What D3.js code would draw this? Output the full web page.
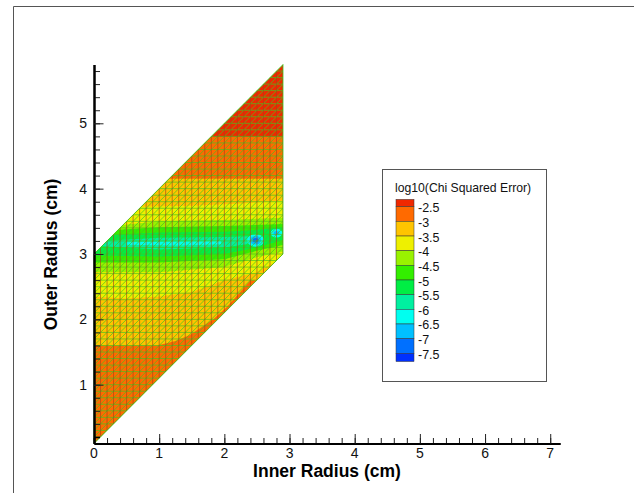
<!DOCTYPE html>
<html lang="en">
<head>
<meta charset="UTF-8">
<title>log10(Chi Squared Error)</title>
<script src="https://d3js.org/d3.v7.min.js"></script>
<style>
    html, body { margin: 0; padding: 0; background: #fff; }
    svg { display: block; font-family: "Liberation Sans", Arial, sans-serif; }
    .axis-title { font-weight: bold; font-size: 17.5px; fill: #000; text-anchor: middle; }
    .tick-label { font-size: 14px; fill: #111; }
</style>
</head>
<body>
<svg id="chart" width="634" height="493"></svg>
<script>
// Legend levels and band colours, top band first
const levels = [-2.5, -3, -3.5, -4, -4.5, -5, -5.5, -6, -6.5, -7, -7.5];
const bandColors = ["#f02800", "#ff6a00", "#ffc400", "#eef000", "#99f200", "#33ee00",
    "#00ee44", "#00f0a0", "#00fff0", "#00c0ff", "#0070ff", "#0030ff"];

// Outline of the solved region (inner radius, outer radius)
const domainOutline = [[0, 0.1], [2.9, 3.0], [2.9, 5.9], [0, 3]];

// Contours: upper and lower limit of "error below level"
const contourLevels = [-2.5, -3, -3.5, -4, -4.5, -5, -5.5, -6];
const contourUpper = [
    [[-0.1, 4.79], [3, 4.79]],
    [[-0.1, 4.15], [3, 4.15]],
    [[0.5, 3.72], [1.5, 3.74], [2.2, 3.77], [3, 3.82]],
    [[0.2, 3.42], [1, 3.5], [2, 3.52], [3, 3.56]],
    [[0, 3.35], [1, 3.41], [2, 3.43], [3, 3.46]],
    [[0, 3.28], [1, 3.33], [2, 3.34], [2.5, 3.37], [3, 3.42]],
    [[0.12, 3.2], [1, 3.25], [2, 3.26], [2.42, 3.27]],
    [[0.5, 3.18], [1.3, 3.19], [1.95, 3.2]]
];
const contourLower = [
    [[-0.1, -1], [3, -1]],
    [[-0.1, 1.6], [0.97, 1.6], [1.25, 1.67], [1.47, 1.76], [1.83, 2.0], [2.04, 2.19], [2.4, 2.6], [3, 2.6]],
    [[-0.1, 2.35], [0.5, 2.32], [1, 2.35], [1.5, 2.42], [2, 2.6], [2.5, 2.72], [3, 3.0]],
    [[-0.1, 2.72], [1, 2.72], [2, 2.8], [2.5, 2.95], [3, 3.06]],
    [[-0.1, 2.87], [1, 2.87], [2, 2.92], [2.5, 3.05], [3, 3.16]],
    [[-0.1, 2.98], [1, 2.96], [2, 3.0], [2.5, 3.1], [3, 3.24]],
    [[0.12, 3.12], [1, 3.07], [2, 3.1], [2.42, 3.16]],
    [[0.5, 3.14], [1.3, 3.13], [1.95, 3.15]]
];

// Two small minima near the right edge
const spotX = [2.48, 2.48, 2.48, 2.8, 2.8];
const spotY = [3.21, 3.21, 3.21, 3.32, 3.32];
const spotRadius = [0.13, 0.085, 0.045, 0.09, 0.045];
const spotLevel = [-6, -6.5, -7, -6, -6.5];

const xTicks = [0, 1, 2, 3, 4, 5, 6, 7];
const yTicks = [1, 2, 3, 4, 5];
const xMinorTicks = d3.range(0, 7.1, 0.2);
const yMinorTicks = d3.range(0.2, 5.9, 0.2);
const xAxisEnd = 7.15;
const yAxisEnd = 5.9;
const yAxisStart = 0.1;

const xLabel = "Inner Radius (cm)";
const yLabel = "Outer Radius (cm)";
const legendTitle = "log10(Chi Squared Error)";

const svg = d3.select("#chart");
const x = d3.scaleLinear().domain([0, xAxisEnd]).range([94, 560]);
const y = d3.scaleLinear().domain([yAxisStart, yAxisEnd]).range([443.5, 64.5]);
const color = d3.scaleThreshold().domain(levels.slice().reverse()).range(bandColors.slice().reverse());
const ring = d3.line().x(d => x(d[0])).y(d => y(d[1])).curve(d3.curveLinearClosed);

// Page frame
svg.append("path").attr("d", "M13.5,493V6.5H634").attr("fill", "none").attr("stroke", "#555");

svg.append("clipPath").attr("id", "domain-clip").append("path").attr("d", ring(domainOutline));
const field = svg.append("g").attr("clip-path", "url(#domain-clip)");

// Flood: paint from the highest band inward
field.append("path").attr("d", ring(domainOutline)).attr("fill", bandColors[0]);
contourLevels.forEach((level, i) => {
    field.append("path")
        .attr("d", ring(contourUpper[i].concat(contourLower[i].slice().reverse())))
        .attr("fill", color(level - 0.01));
});
spotX.forEach((sx, i) => {
    field.append("ellipse")
        .attr("cx", x(sx)).attr("cy", y(spotY[i]))
        .attr("rx", x(spotRadius[i]) - x(0)).attr("ry", (y(0) - y(spotRadius[i])) * 0.75)
        .attr("fill", color(spotLevel[i] - 0.01));
});

// Mesh
const meshGreen = "#44c41e";
const columns = d3.range(0, 30).map(i => i / 10);
const rows = d3.range(1, 60).map(i => i / 10);
const diagonals = d3.range(1, 31).map(i => i / 10);
field.selectAll(".row").data(rows).join("line")
    .attr("x1", x(0)).attr("x2", x(2.9))
    .attr("y1", d => y(d)).attr("y2", d => y(d))
    .attr("stroke", meshGreen).attr("stroke-width", 0.8).attr("stroke-opacity", 0.9);
field.selectAll(".diag").data(diagonals).join("line")
    .attr("x1", x(0)).attr("x2", x(2.9))
    .attr("y1", d => y(d)).attr("y2", d => y(d + 2.9))
    .attr("stroke", meshGreen).attr("stroke-width", 0.8).attr("stroke-opacity", 0.9);
field.selectAll(".col").data(columns).join("line")
    .attr("x1", d => x(d)).attr("x2", d => x(d))
    .attr("y1", d => y(d + 0.1)).attr("y2", d => y(d + 3))
    .attr("stroke", "#a04c18").attr("stroke-width", 0.8).attr("stroke-opacity", 0.85);
svg.append("path").attr("d", ring(domainOutline))
    .attr("fill", "none").attr("stroke", meshGreen).attr("stroke-width", 0.8);

// Axes, ticks point into the plot
const axisX = svg.append("g").attr("transform", `translate(0,${y(yAxisStart)})`);
axisX.call(d3.axisTop(x).tickValues(xMinorTicks).tickSize(5.5).tickSizeOuter(0).tickFormat(""));
axisX.append("g").call(d3.axisTop(x).tickValues(xTicks).tickSize(9.5).tickSizeOuter(0).tickFormat(""));
const axisY = svg.append("g").attr("transform", `translate(${x(0)},0)`);
axisY.call(d3.axisRight(y).tickValues(yMinorTicks).tickSize(6).tickSizeOuter(0).tickFormat(""));
axisY.append("g").call(d3.axisRight(y).tickValues(yTicks).tickSize(9.5).tickSizeOuter(0).tickFormat(""));
svg.selectAll(".domain").attr("stroke", "#000").attr("stroke-width", 2);
axisX.selectAll(".tick line").attr("stroke", "#222");
axisY.selectAll(".tick line").attr("stroke", "#222");
axisX.select("g").selectAll(".tick line").attr("stroke", "#000").attr("stroke-width", 1.6);
axisY.select("g").selectAll(".tick line").attr("stroke", "#000").attr("stroke-width", 1.6);

svg.selectAll(".xlab").data(xTicks).join("text")
    .attr("class", "tick-label")
    .attr("x", d => x(d)).attr("y", 457.5).attr("text-anchor", "middle")
    .text(d => d);
svg.selectAll(".ylab").data(yTicks).join("text")
    .attr("class", "tick-label")
    .attr("x", 87).attr("y", d => y(d) + 5).attr("text-anchor", "end")
    .text(d => d);

svg.append("text").attr("class", "axis-title").attr("x", 327).attr("y", 477).text(xLabel);
svg.append("text").attr("class", "axis-title")
    .attr("transform", "translate(57,254.5) rotate(-90)").text(yLabel);

// Legend
svg.append("rect").attr("x", 382.5).attr("y", 169.5).attr("width", 164).attr("height", 212)
    .attr("fill", "#fff").attr("stroke", "#555");
svg.append("text").attr("x", 395).attr("y", 192).attr("font-size", 12.2).attr("fill", "#111").text(legendTitle);

const legendY = d3.scaleLinear().domain([-2.5, -7.5]).range([206.7, 353.3]);
const legendEdges = [-2.25].concat(levels, [-7.78]);
bandColors.forEach((c, i) => {
    svg.append("rect")
        .attr("x", 396).attr("width", 18)
        .attr("y", legendY(legendEdges[i]))
        .attr("height", legendY(legendEdges[i + 1]) - legendY(legendEdges[i]))
        .attr("fill", c).attr("stroke", "#333").attr("stroke-width", 0.5);
});
svg.selectAll(".leg").data(levels).join("text")
    .attr("x", 418).attr("y", d => legendY(d) + 5.5)
    .attr("font-size", 12.5).attr("fill", "#111")
    .text(d => d);
</script>
</body>
</html>
